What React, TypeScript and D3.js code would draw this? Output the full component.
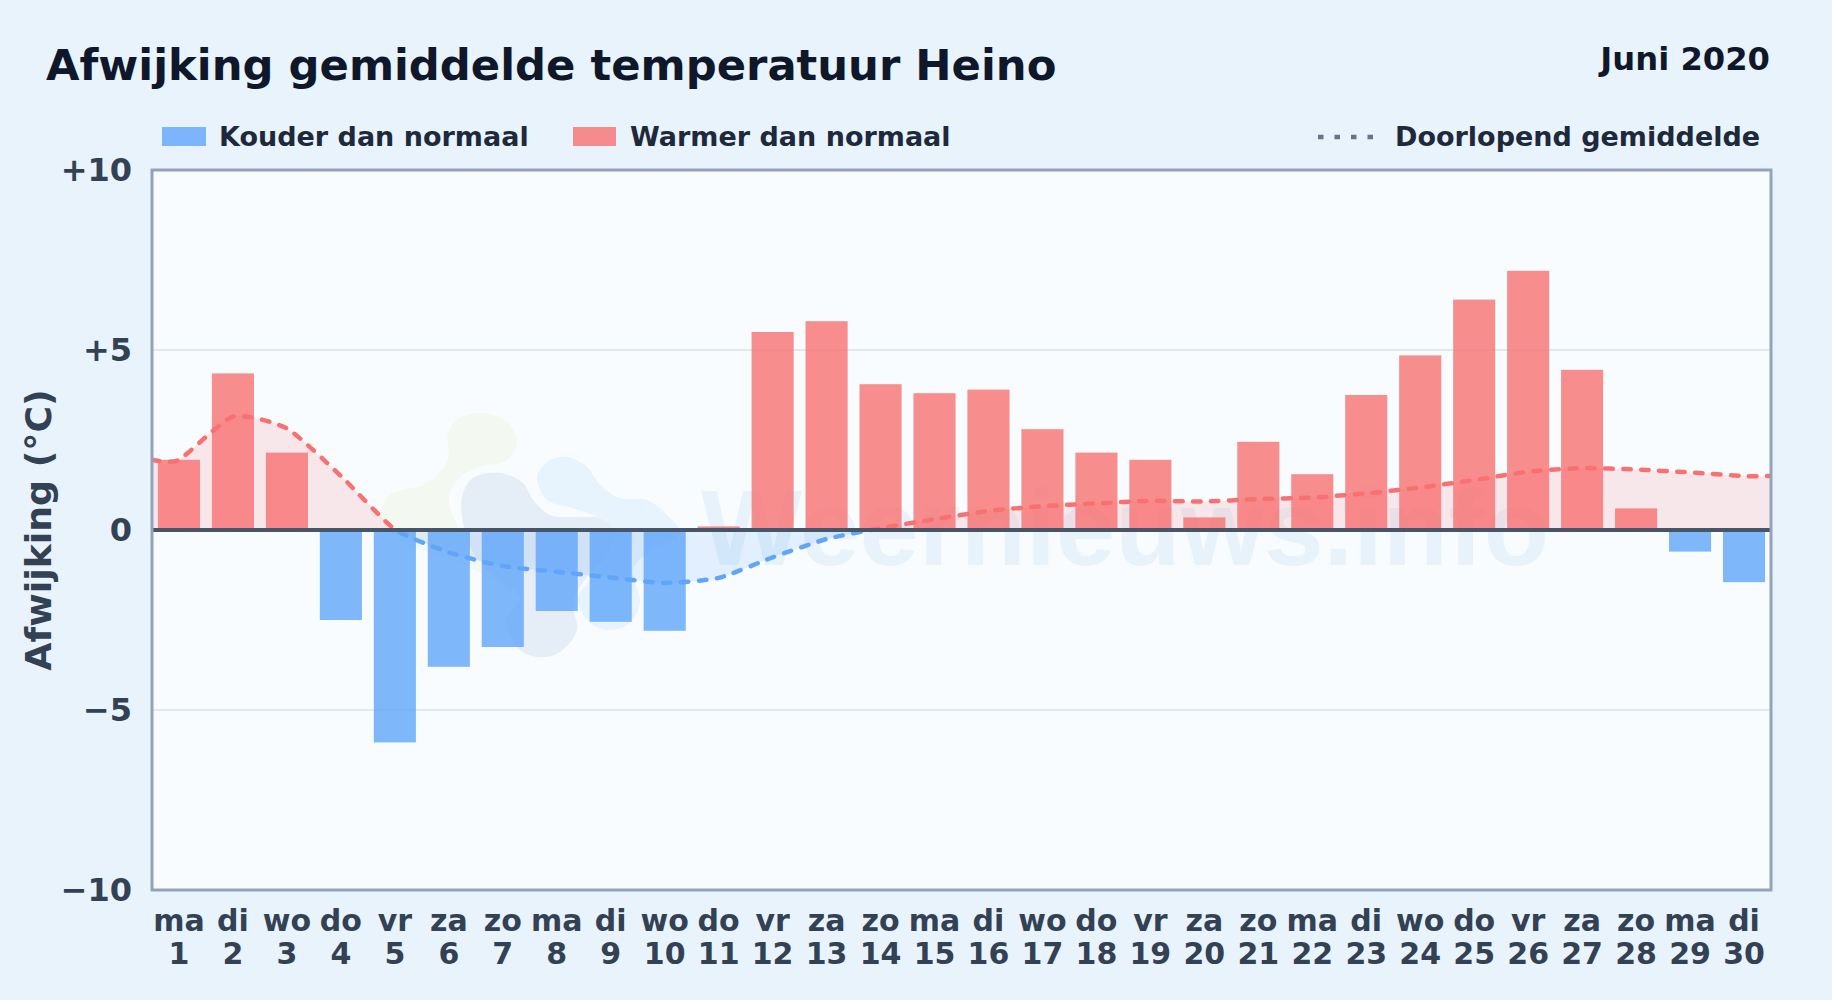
import * as d3 from 'd3';

const dayNames = ['ma', 'di', 'wo', 'do', 'vr', 'za', 'zo', 'ma', 'di', 'wo', 'do', 'vr', 'za', 'zo', 'ma', 'di', 'wo', 'do', 'vr', 'za', 'zo', 'ma', 'di', 'wo', 'do', 'vr', 'za', 'zo', 'ma', 'di'];
const days = d3.range(1, 31);
const anomaly = [1.95, 4.35, 2.15, -2.5, -5.9, -3.8, -3.25, -2.25, -2.55, -2.8, 0.1, 5.5, 5.8, 4.05, 3.8, 3.9, 2.8, 2.15, 1.95, 0.35, 2.45, 1.55, 3.75, 4.85, 6.4, 7.2, 4.45, 0.6, -0.6, -1.45];
const runningMean = [1.95, 3.15, 2.82, 1.5, 0.02, -0.62, -1.0, -1.16, -1.32, -1.47, -1.33, -0.76, -0.25, 0.05, 0.3, 0.53, 0.66, 0.74, 0.81, 0.79, 0.86, 0.9, 1.02, 1.18, 1.39, 1.62, 1.72, 1.68, 1.6, 1.5];
const yTicks = [10, 5, 0, -5, -10];
const yTickLabels = ['+10', '+5', '0', '\u22125', '\u221210'];

const W = 1832;
const H = 1000;
const FONT = '"DejaVu Sans", sans-serif';
const plot = { left: 152, right: 1771, top: 170, bottom: 890 };

// watermark logo, rough outlines
const blobGreen: [number, number][] = [[448, 433], [460, 418], [483, 413], [507, 422], [517, 443], [507, 460], [477, 468], [455, 482], [449, 503], [470, 543], [500, 563], [530, 590], [532, 593], [528, 597], [460, 563], [417, 548], [387, 530], [380, 513], [390, 495], [427, 483], [448, 460]];
const blobGray: [number, number][] = [[462, 497], [473, 478], [500, 473], [523, 483], [533, 500], [550, 515], [577, 517], [600, 518], [613, 530], [607, 557], [587, 577], [573, 603], [577, 630], [560, 652], [537, 657], [517, 647], [507, 620], [520, 597], [487, 570], [470, 547], [463, 523]];
const blobBlue: [number, number][] = [[537, 477], [547, 462], [567, 457], [587, 467], [600, 485], [620, 498], [647, 500], [667, 515], [680, 533], [647, 553], [633, 570], [640, 603], [627, 625], [607, 630], [587, 620], [578, 597], [593, 577], [613, 547], [607, 523], [573, 508], [547, 500]];

const x = d3.scaleBand<number>().domain(days).range([plot.left, plot.right]).paddingInner(0.22).paddingOuter(0.11);
const y = d3.scaleLinear().domain([-10, 10]).range([plot.bottom, plot.top]);
const center = (d: number) => (x(d) ?? 0) + x.bandwidth() / 2;

// the mean line runs on from the first and last bar to the frame
const meanPoints: [number, number][] = [
  [plot.left, runningMean[0]],
  ...runningMean.map((v, i) => [center(days[i]), v] as [number, number]),
  [plot.right, runningMean[runningMean.length - 1]],
];
const meanCurve = d3.curveCardinal.tension(0.4);
const meanLine = d3.line<[number, number]>().x((d) => d[0]).y((d) => y(d[1])).curve(meanCurve);
const meanArea = d3.area<[number, number]>().x((d) => d[0]).y0(y(0)).y1((d) => y(d[1])).curve(meanCurve);
const blob = d3.line().curve(d3.curveCatmullRomClosed);

const COLD = '#60a5fa';
const WARM = '#f87171';

export default function App() {
  return (
    <svg width={W} height={H} viewBox={`0 0 ${W} ${H}`} style={{ position: 'absolute', left: 0, top: 0, display: 'block' }} fontFamily={FONT} fontWeight={700}>
      <defs>
        <clipPath id="above">
          <rect x={plot.left} y={plot.top} width={plot.right - plot.left} height={y(0) - plot.top} />
        </clipPath>
        <clipPath id="below">
          <rect x={plot.left} y={y(0)} width={plot.right - plot.left} height={plot.bottom - y(0)} />
        </clipPath>
      </defs>
      <rect width={W} height={H} fill="#e8f3fc" />

      <text x={46} y={79.5} fontSize={43.3} fill="#0f172a">Afwijking gemiddelde temperatuur Heino</text>
      <text x={1770} y={70} fontSize={32.2} fill="#0f172a" textAnchor="end">Juni 2020</text>

      <rect x={162} y={127} width={44} height={19} fill={COLD} opacity={0.8} />
      <text x={219} y={146} fontSize={27} fill="#1e293b">Kouder dan normaal</text>
      <rect x={573} y={127} width={43} height={19} fill={WARM} opacity={0.8} />
      <text x={630} y={146} fontSize={27} fill="#1e293b">Warmer dan normaal</text>
      <line x1={1318} x2={1374} y1={137} y2={137} stroke="#64748b" strokeWidth={4.5} strokeDasharray="5.5 11" />
      <text x={1395} y={146} fontSize={27} fill="#1e293b">Doorlopend gemiddelde</text>

      <rect x={plot.left} y={plot.top} width={plot.right - plot.left} height={plot.bottom - plot.top} fill="#f8fcff" />

      <g>
        <path d={blob(blobGreen) ?? ''} fill="#f3f8f0" />
        <path d={blob(blobBlue) ?? ''} fill="#e7f3fd" />
        <path d={blob(blobGray) ?? ''} fill="#e5edf6" />
        <text x={701} y={565} fontSize={107} fontFamily='"Liberation Sans", sans-serif' fill="#e8f2fb">Weernieuws.info</text>
      </g>

      {yTicks.filter((t) => Math.abs(t) === 5).map((t) => (
        <line key={t} x1={plot.left} x2={plot.right} y1={y(t)} y2={y(t)} stroke="#e2e8f0" strokeWidth={2} />
      ))}

      <path d={meanArea(meanPoints) ?? ''} fill={WARM} opacity={0.15} clipPath="url(#above)" />
      <path d={meanArea(meanPoints) ?? ''} fill={COLD} opacity={0.15} clipPath="url(#below)" />

      {anomaly.map((v, i) => (
        <rect
          key={days[i]}
          x={x(days[i])}
          y={y(Math.max(v, 0))}
          width={x.bandwidth()}
          height={Math.abs(y(v) - y(0))}
          fill={v < 0 ? COLD : WARM}
          opacity={0.8}
        />
      ))}

      <g fill="none" strokeWidth={4.5} strokeLinecap="round" strokeDasharray="7.5 10.5">
        <path d={meanLine(meanPoints) ?? ''} stroke={WARM} clipPath="url(#above)" />
        <path d={meanLine(meanPoints) ?? ''} stroke={COLD} clipPath="url(#below)" />
      </g>

      <line x1={plot.left} x2={plot.right} y1={y(0)} y2={y(0)} stroke="#475569" strokeWidth={4} />
      <rect x={plot.left} y={plot.top} width={plot.right - plot.left} height={plot.bottom - plot.top} fill="none" stroke="#94a3b8" strokeWidth={3} />

      {yTicks.map((t, i) => (
        <text key={t} x={132} y={y(t) + 11} fontSize={32} fill="#334155" textAnchor="end">{yTickLabels[i]}</text>
      ))}
      {days.map((d, i) => (
        <g key={d} fontSize={30} fill="#334155" textAnchor="middle">
          <text x={center(d)} y={931}>{dayNames[i]}</text>
          <text x={center(d)} y={964}>{d}</text>
        </g>
      ))}
      <text transform={`translate(51,${y(0)}) rotate(-90)`} fontSize={36.3} fill="#334155" textAnchor="middle">Afwijking (°C)</text>
    </svg>
  );
}
